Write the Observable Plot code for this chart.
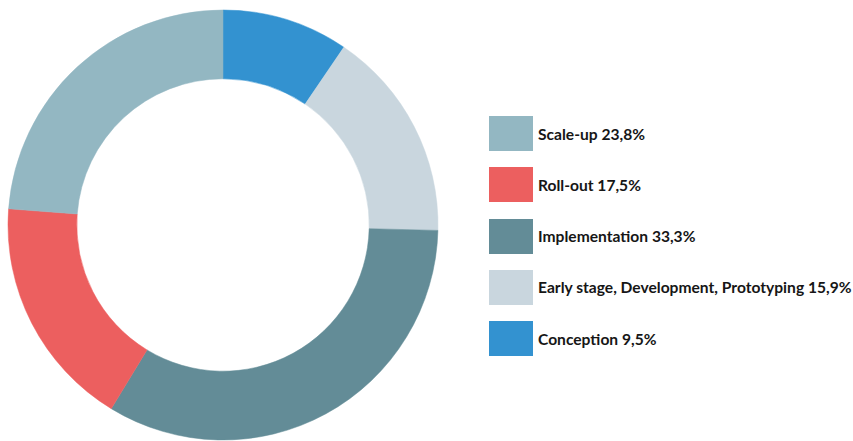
<!DOCTYPE html>
<html>
<head>
<meta charset="utf-8">
<script src="https://cdn.jsdelivr.net/npm/d3@7"></script>
<script src="https://cdn.jsdelivr.net/npm/@observablehq/plot@0.6"></script>
<style>
  html, body { margin: 0; padding: 0; background: #fff; }
  #wrap { position: relative; width: 853px; height: 441px; overflow: hidden; }
  #chart { position: absolute; left: 0; top: 0; }
  #legend { position: absolute; left: 489px; top: 116px; width: 364px; font-family: Lato, sans-serif; font-weight: 700; font-size: 15.6px; color: #161616; }
  #legend > div { font-family: Lato, sans-serif !important; font-weight: 700 !important; font-size: 15.6px !important; color: #161616 !important; margin: 0 !important; columns: auto !important; min-height: 0 !important; }
  #legend > div > div, #legend > div > span { display: flex !important; align-items: center !important; margin: 0 0 16.3px 0 !important; padding: 0 !important; white-space: nowrap; overflow: visible !important; }
  #legend > div > div > div { overflow: visible !important; max-width: none !important; white-space: nowrap; }
  #legend svg { margin-right: 5px !important; flex: none; }
</style>
</head>
<body>
<div id="wrap"><div id="chart"></div><div id="legend"></div></div>
<script>
// Data (clockwise from 12 o'clock)
const categories = ["Conception", "Early stage, Development, Prototyping", "Implementation", "Roll-out", "Scale-up"];
const shares = [9.5, 15.9, 33.3, 17.5, 23.8];
const shareLabels = ["9,5%", "15,9%", "33,3%", "17,5%", "23,8%"];
const colors = ["#3392d0", "#c9d6de", "#638c97", "#ec5f5f", "#93b7c2"];
// legend order, top to bottom
const legendOrder = ["Scale-up", "Roll-out", "Implementation", "Early stage, Development, Prototyping", "Conception"];

const data = categories.map((c, i) => ({category: c, share: shares[i], label: shareLabels[i]}));
const colorScale = Plot.scale({color: {type: "ordinal", domain: categories, range: colors}});

function donut(index, scales, values, dim) {
  const w = dim.width - dim.marginLeft - dim.marginRight;
  const h = dim.height - dim.marginTop - dim.marginBottom;
  const cx = dim.marginLeft + w / 2, cy = dim.marginTop + h / 2;
  const outer = Math.min(w, h) / 2;
  const inner = outer * 0.68;
  const pie = d3.pie().sort(null).value(d => d.share);
  const arc = d3.arc().innerRadius(inner).outerRadius(outer);
  const g = d3.create("svg:g").attr("transform", `translate(${cx},${cy})`);
  g.selectAll("path").data(pie(data)).join("path")
    .attr("d", arc)
    .attr("fill", d => colorScale.apply(d.data.category))
    .attr("stroke", d => colorScale.apply(d.data.category))
    .attr("stroke-width", 0.5);
  return g.node();
}

const plot = Plot.plot({
  width: 446,
  height: 441,
  marginLeft: 8,
  marginRight: 8,
  marginTop: 10,
  marginBottom: 1,
  x: {axis: null},
  y: {axis: null},
  marks: [donut]
});
document.getElementById("chart").appendChild(plot);

const labelOf = Object.fromEntries(data.map(d => [d.category, `${d.category} ${d.label}`]));
const legend = Plot.legend({
  color: {type: "ordinal", domain: legendOrder, range: legendOrder.map(c => colors[categories.indexOf(c)])},
  legend: "swatches",
  columns: 1,
  swatchWidth: 44,
  swatchHeight: 35,
  tickFormat: c => labelOf[c]
});
document.getElementById("legend").appendChild(legend);
</script>
</body>
</html>
